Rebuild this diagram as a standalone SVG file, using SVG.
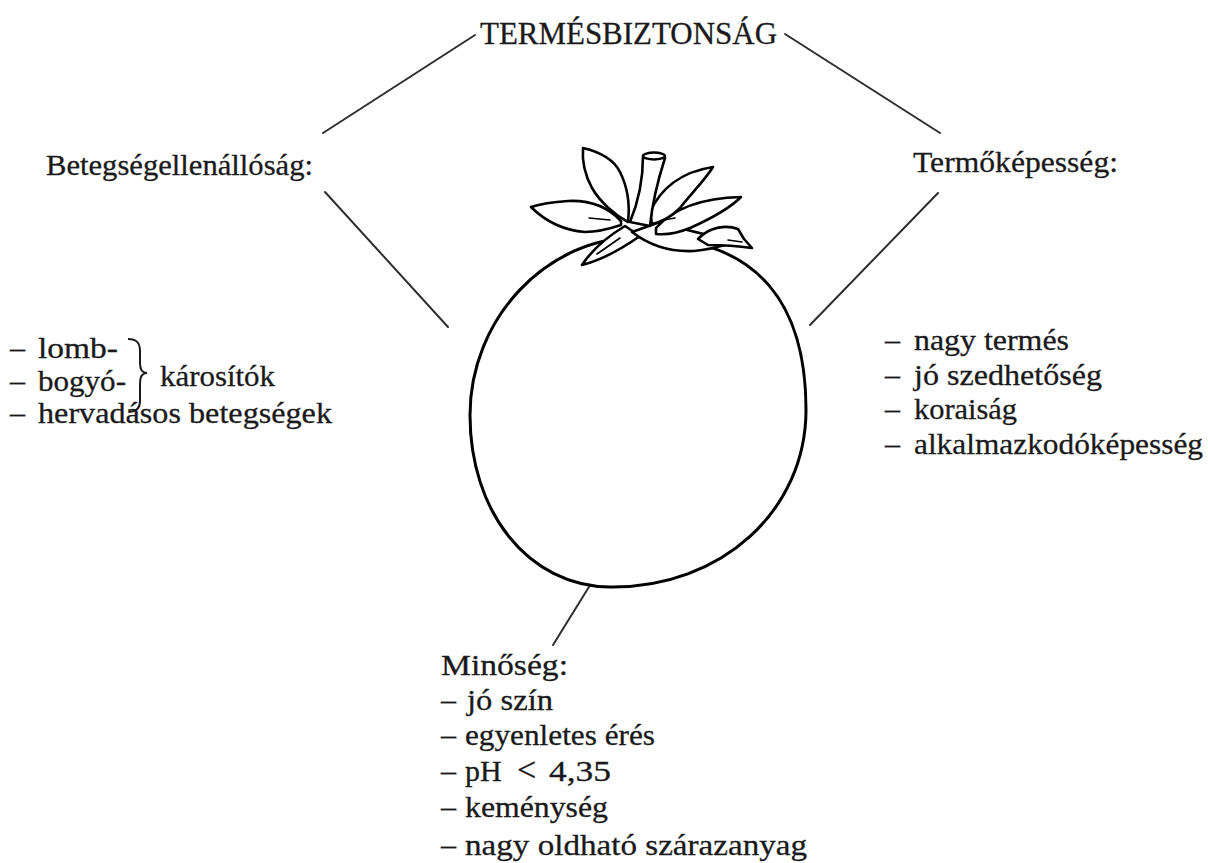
<svg xmlns="http://www.w3.org/2000/svg" width="1208" height="863" viewBox="0 0 1208 863">
  <style>
    .t { font-family: "Liberation Serif", "Times New Roman", serif; font-size: 30px; fill: #1a1a1a; stroke: #1a1a1a; stroke-width: 0.3; }
    .title { font-size: 31px; }
    .conn { stroke: #2e2e2e; stroke-width: 2; fill: none; stroke-linecap: round; }
    .fruit { fill: #fff; stroke: #000; stroke-width: 3; }
    .leaf { fill: #fff; stroke: #000; stroke-width: 2.6; stroke-linejoin: round; stroke-linecap: round; }
    .vein { fill: none; stroke: #000; stroke-width: 1.6; stroke-linecap: round; }
    .brace { fill: none; stroke: #1a1a1a; stroke-width: 2; }
  </style>
  <rect width="1208" height="863" fill="#fff"/>

  <!-- connectors between the fruit, the title and the three groups -->
  <g id="connectors">
    <line class="conn" x1="323" y1="133" x2="475" y2="35"/>
    <line class="conn" x1="785" y1="34" x2="940" y2="133"/>
    <line class="conn" x1="325" y1="192" x2="448" y2="327"/>
    <line class="conn" x1="938" y1="193" x2="810" y2="325"/>
    <line class="conn" x1="592" y1="582" x2="553" y2="645"/>
  </g>

  <!-- title -->
  <g id="title">
    <text class="t title" x="480" y="44" textLength="297" lengthAdjust="spacingAndGlyphs">TERMÉSBIZTONSÁG</text>
  </g>

  <!-- tomato -->
  <g id="tomato">
    <path class="fruit" d="M640,237 C762,237 806,308 806,410 C806,510 722,588 610,587 C528,586 470,512 470,415 C470,320 545,237 640,237 Z"/>
    <!-- calyx: sepals and stem -->
    <g id="calyx">
      <!-- lower left sepal -->
      <path class="leaf" d="M625,226 C605,238 592,250 582,265 C602,260 620,250 640,236 Z"/>
      <path class="vein" d="M597,254 L620,238"/>
      <!-- right base of the calyx -->
      <path class="leaf" d="M632,232 C650,246 672,252 694,251 C710,250 722,246 735,242 C715,236 690,232 660,222 Z"/>
      <!-- lower right sepal -->
      <path class="leaf" d="M698,239 C710,226 727,225 738,229 L744,239 L752,248 C738,246 722,245 708,245 Z"/>
      <path class="vein" d="M728,240 L742,242"/>
      <!-- right middle sepal -->
      <path class="leaf" d="M656,228 C672,210 700,198 741,197 C728,210 708,220 690,228 C678,233 666,235 656,234 Z"/>
      <path class="vein" d="M658,221 L675,218"/>
      <!-- right upper sepal -->
      <path class="leaf" d="M650,212 C660,190 680,172 713,167 C705,180 690,195 680,208 C672,216 662,222 652,224 Z"/>
      <!-- left horizontal sepal -->
      <path class="leaf" d="M621,221 C608,207 590,200 568,201 C552,202 540,204 531,207 C542,218 560,230 585,232 C600,232 612,228 621,225 Z"/>
      <path class="vein" d="M589,218 L610,220"/>
      <!-- stem -->
      <path class="leaf" d="M643,156 C643,175 640,198 630,222 L650,226 C652,206 656,186 665,158 Z"/>
      <ellipse cx="654" cy="156" rx="11" ry="3.5" fill="#fff" stroke="#000" stroke-width="2.4"/>
      <!-- upper left sepal -->
      <path class="leaf" d="M583,148 C600,152 614,160 620,172 C628,188 630,205 628,222 C615,215 600,202 592,188 C585,175 582,160 583,148 Z"/>
    </g>
  </g>

  <!-- disease resistance -->
  <g id="betegsegellenallosag">
    <text class="t" x="46" y="175" textLength="267" lengthAdjust="spacingAndGlyphs">Betegségellenállóság:</text>
    <text class="t" y="358"><tspan x="10">–</tspan><tspan x="38" textLength="80" lengthAdjust="spacingAndGlyphs">lomb-</tspan></text>
    <text class="t" y="391"><tspan x="10">–</tspan><tspan x="38" textLength="88" lengthAdjust="spacingAndGlyphs">bogyó-</tspan></text>
    <path class="brace" d="M128,339 C137,339 140,343 140,351 L140,363 C140,369 142,373 147,373 C142,373 140,377 140,383 L140,401 C140,408 137,411 129,412"/>
    <text class="t" x="160" y="386" textLength="115" lengthAdjust="spacingAndGlyphs">károsítók</text>
    <text class="t" y="423"><tspan x="10">–</tspan><tspan x="38" textLength="294" lengthAdjust="spacingAndGlyphs">hervadásos betegségek</tspan></text>
  </g>

  <!-- yield capacity -->
  <g id="termokepesseg">
    <text class="t" x="913" y="172" textLength="205" lengthAdjust="spacingAndGlyphs">Termőképesség:</text>
    <text class="t" y="350"><tspan x="885">–</tspan><tspan x="914" textLength="155" lengthAdjust="spacingAndGlyphs">nagy termés</tspan></text>
    <text class="t" y="385"><tspan x="885">–</tspan><tspan x="914" textLength="188" lengthAdjust="spacingAndGlyphs">jó szedhetőség</tspan></text>
    <text class="t" y="419"><tspan x="885">–</tspan><tspan x="914" textLength="103" lengthAdjust="spacingAndGlyphs">koraiság</tspan></text>
    <text class="t" y="454"><tspan x="885">–</tspan><tspan x="914" textLength="289" lengthAdjust="spacingAndGlyphs">alkalmazkodóképesség</tspan></text>
  </g>

  <!-- quality -->
  <g id="minoseg">
    <text class="t" x="441" y="675" textLength="127" lengthAdjust="spacingAndGlyphs">Minőség:</text>
    <text class="t" y="710"><tspan x="441">–</tspan><tspan x="467" textLength="86" lengthAdjust="spacingAndGlyphs">jó szín</tspan></text>
    <text class="t" y="745"><tspan x="441">–</tspan><tspan x="465" textLength="190" lengthAdjust="spacingAndGlyphs">egyenletes érés</tspan></text>
    <text class="t" y="781"><tspan x="441">–</tspan><tspan x="465">pH</tspan><tspan x="517" font-size="34">&lt;</tspan><tspan x="549" textLength="62" lengthAdjust="spacingAndGlyphs">4,35</tspan></text>
    <text class="t" y="817"><tspan x="441">–</tspan><tspan x="465" textLength="143" lengthAdjust="spacingAndGlyphs">keménység</tspan></text>
    <text class="t" y="855"><tspan x="441">–</tspan><tspan x="465" textLength="342" lengthAdjust="spacingAndGlyphs">nagy oldható szárazanyag</tspan></text>
  </g>
</svg>
